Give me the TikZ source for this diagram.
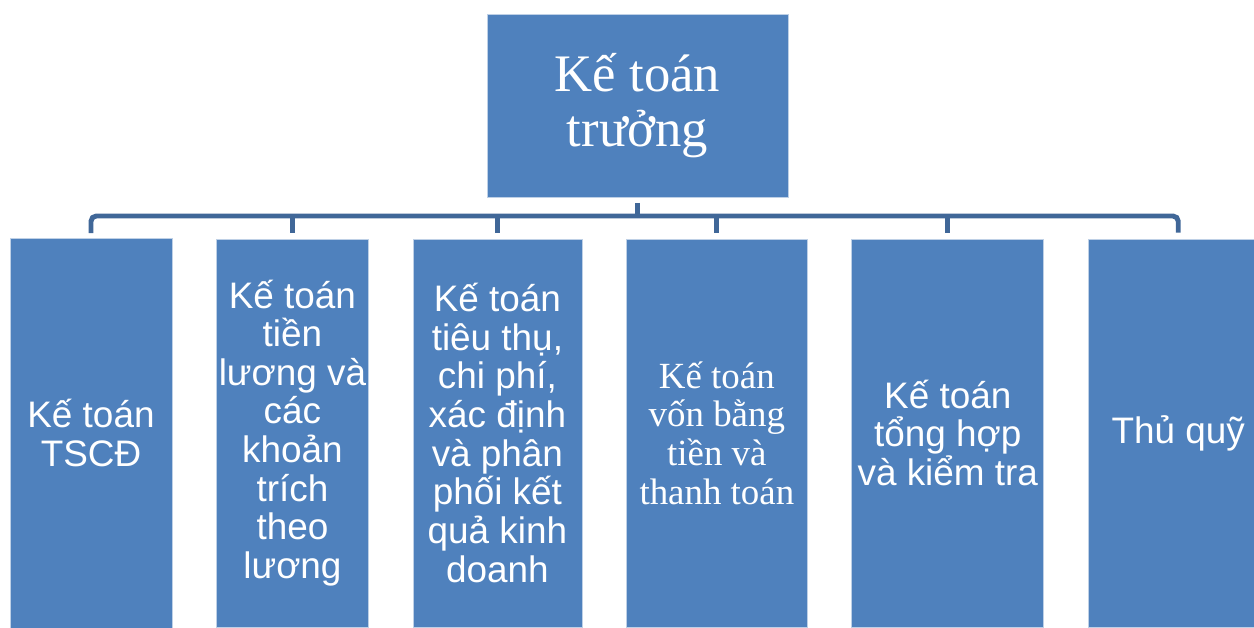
\documentclass[tikz,border=0pt]{standalone}
\usepackage{fontspec}
\setmainfont{Liberation Serif}
\newfontfamily\arialfont{Liberation Sans}
\usepackage{xcolor}
\usetikzlibrary{positioning,calc}

\definecolor{boxblue}{RGB}{79,129,189}
\definecolor{boxedge}{RGB}{190,208,230}
\definecolor{busblue}{RGB}{64,103,152}

\begin{document}
\begin{tikzpicture}[x=0.02cm, y=-0.02cm,
  box/.style={draw=boxedge, line width=0.4pt, fill=boxblue, text=white, align=center, inner sep=0pt, outer sep=0pt, minimum height=7.76cm},
  sansbox/.style={box, font=\arialfont\fontsize{21pt}{22pt}\selectfont},
  serifbox/.style={box, font=\fontsize{21pt}{22pt}\selectfont},
  conn/.style={draw=busblue, line width=2.8pt},
  node distance=4mm and 0.89cm
]
\useasboundingbox (0,0) rectangle (1254,628);

\node[box, minimum width=6.02cm, minimum height=3.66cm, font=\fontsize{30pt}{31pt}\selectfont] (chief) at (637.5,105.5) {Kế toán\\trưởng};

\node[sansbox, anchor=north west, minimum width=3.24cm, minimum height=7.8cm] (tscd) at (10,238) {Kế toán\\TSCĐ};
\node[sansbox, right=of tscd, minimum width=3.04cm] (luong) {Kế toán\\tiền\\lương và\\các\\khoản\\trích\\theo\\lương};
\node[sansbox, right=of luong, minimum width=3.38cm] (tieuthu) {Kế toán\\tiêu thụ,\\chi phí,\\xác định\\và phân\\phối kết\\quả kinh\\doanh};
\node[serifbox, right=of tieuthu, minimum width=3.62cm] (von) {Kế toán\\vốn bằng\\tiền và\\thanh toán};
\node[sansbox, right=of von, minimum width=3.84cm] (tonghop) {Kế toán\\tổng hợp\\và kiểm tra};
\node[sansbox, right=of tonghop, minimum width=3.6cm] (quy) {Thủ quỹ};

% bus line
\coordinate (bus) at (637.5,216);
\draw[conn, shorten <=0.12cm] (chief.south) -- (bus);
\draw[conn, rounded corners=3pt, shorten <=0.1cm, shorten >=0.13cm] (tscd.north) |- (bus) -| (quy.north);
\foreach \n in {luong,tieuthu,von,tonghop}
  \draw[conn, shorten >=0.13cm] (bus -| \n.north) -- (\n.north);
\end{tikzpicture}
\end{document}
